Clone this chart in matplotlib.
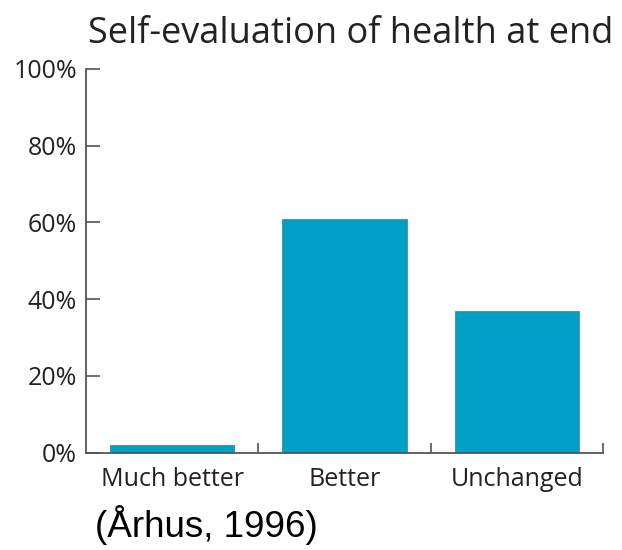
import matplotlib.pyplot as plt
import numpy as np

categories = ['Much better', 'Better', 'Unchanged']
values = [2, 61, 37]
y_ticks = [0, 20, 40, 60, 80, 100]
y_tick_labels = ['0%', '20%', '40%', '60%', '80%', '100%']

BAR_COLOR = '#00a0c6'
AXIS_COLOR = '#555555'
TEXT_COLOR = '#222222'

fig = plt.figure(figsize=(6.22, 5.5), dpi=100)
ax = fig.add_axes([86 / 622, 1 - 452.7 / 550, (603 - 86) / 622, (452.7 - 69) / 550])

x = np.arange(len(categories))
ax.bar(x, values, width=0.72, color=BAR_COLOR, edgecolor='#3b8fa8', linewidth=0.6)

ax.set_xlim(-0.5, len(categories) - 0.5)
ax.set_ylim(0, 100)

# boundary ticks pointing up, labels on the category centres
ax.set_xticks(x + 0.5)
ax.set_xticklabels([])
ax.tick_params(axis='x', which='major', direction='in', length=7, width=1.2, color=AXIS_COLOR)
ax.set_xticks(x, minor=True)
ax.set_xticklabels(categories, minor=True, fontsize=18, family='Open Sans', color=TEXT_COLOR)
ax.tick_params(axis='x', which='minor', length=0, pad=10)

ax.set_yticks(y_ticks)
ax.set_yticklabels(y_tick_labels, fontsize=18, family='Open Sans', color=TEXT_COLOR)
ax.tick_params(axis='y', direction='in', length=10, width=1.2, color=AXIS_COLOR, pad=6.5)

for side in ['top', 'right']:
    ax.spines[side].set_visible(False)
for side in ['left', 'bottom']:
    ax.spines[side].set_color(AXIS_COLOR)
    ax.spines[side].set_linewidth(1.3)

fig.text(88 / 622, 1 - 43 / 550, 'Self-evaluation of health at end', fontsize=26,
         family='Open Sans', color=TEXT_COLOR, va='baseline')
fig.text(95 / 622, 1 - 537 / 550, '(Århus, 1996)', fontsize=26.5,
         family='Liberation Sans', color='black', va='baseline')

fig.savefig('out.png', dpi=100)
